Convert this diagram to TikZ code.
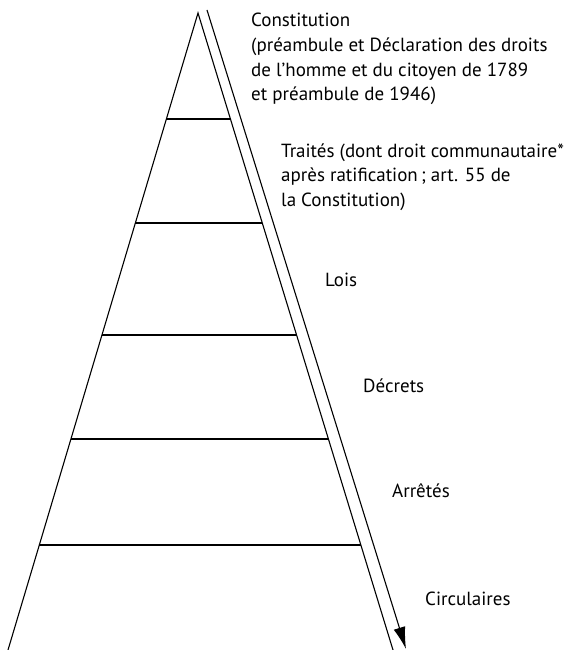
\documentclass[tikz,border=0pt]{standalone}
\usepackage{fontspec}
\setmainfont{PT Sans}
\usetikzlibrary{calc,arrows.meta}
\begin{document}
\begin{tikzpicture}[x=1pt,y=-1pt,
  edge/.style={line width=1.1pt,black},
  level/.style={line width=1.1pt,black},
  % multi-line labels are placed by the baseline of their last line
  label/.style={inner sep=0pt,anchor=base west,align=left,
    font=\fontsize{19}{24.5}\selectfont},
  flow/.style={line width=1.1pt,-{Latex[length=22pt,width=12pt]}}]
  \useasboundingbox (0,0) rectangle (583,650);
  % pyramid outline
  \coordinate (apex) at (198,13);
  \coordinate (bl) at (8,650);
  \coordinate (br) at (393,650);
  \draw[edge] (bl) -- (apex) -- (br);
  % level separators
  \foreach \t [count=\i] in {0.1664,0.3297,0.5055,0.6688,0.8352}{
    \coordinate (l\i) at ($(apex)!\t!(bl)$);
    \coordinate (r\i) at ($(apex)!\t!(br)$);
    \draw[level] (l\i) -- (r\i);
  }
  % hierarchy arrow
  \coordinate (astart) at (207,10);
  \coordinate (aend) at (406,649);
  \draw[flow] (astart) -- (aend);
  % labels
  \node[label] (const) at (251,100.5) {Constitution\\(préambule et Déclaration des droits\\de l’homme et du citoyen de 1789\\et préambule de 1946)};
  \node[label] (traites) at (281,206) {Traités (dont droit communautaire*\\après ratification\,; art. 55 de\\la Constitution)};
  \node[label] (lois) at (325,286) {Lois};
  \node[label] (decrets) at (363,392) {Décrets};
  \node[label] (arretes) at (392,497) {Arrêtés};
  \node[label] (circ) at (425,605) {Circulaires};
\end{tikzpicture}
\end{document}
